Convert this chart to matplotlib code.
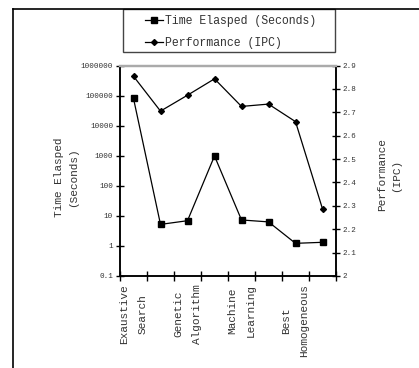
import numpy as np
import matplotlib
matplotlib.use("Agg")
import matplotlib.pyplot as plt
from matplotlib.patches import Rectangle
from matplotlib.lines import Line2D
from matplotlib.ticker import FixedLocator, FormatStrFormatter

# search strategies (only every other label is shown on the axis)
categories = ["Exaustive\nSearch", "", "Genetic\nAlgorithm", "",
              "Machine\nLearning", "", "Best\nHomogeneous", ""]
time_elapsed = [80000, 5.2, 6.9, 980, 7.3, 6.3, 1.22, 1.32]       # seconds, log scale
performance = [2.854, 2.705, 2.773, 2.843, 2.725, 2.735, 2.660, 2.287]  # IPC

time_ticks = [0.1, 1, 10, 100, 1000, 10000, 100000, 1000000]
time_tick_labels = ["0.1", "1", "10", "100", "1000", "10000", "100000", "1000000"]
ipc_ticks = [2.0, 2.1, 2.2, 2.3, 2.4, 2.5, 2.6, 2.7, 2.8, 2.9]

FONT = "Liberation Mono"
TXT = "#333333"

fig = plt.figure(figsize=(4.19, 3.68), dpi=100)
fig.patch.set_facecolor("white")

ax = fig.add_axes([120 / 419, 1 - 276 / 368, 216 / 419, (276 - 65.5) / 368])
ax2 = ax.twinx()

x = np.arange(len(categories))
l1, = ax.plot(x, time_elapsed, color="black", lw=0.9, marker="s", ms=4.5,
              mfc="black", mec="black", label="Time Elasped (Seconds)")
l2, = ax2.plot(x, performance, color="black", lw=0.9, marker="D", ms=3,
               mfc="black", mec="black", label="Performance (IPC)")

ax.set_yscale("log")
ax.set_ylim(0.1, 1000000)
ax.yaxis.set_major_locator(FixedLocator(time_ticks))
ax.set_yticklabels(time_tick_labels)
ax.yaxis.set_minor_locator(FixedLocator([]))
ax2.set_ylim(2.0, 2.9)
ax2.yaxis.set_major_locator(FixedLocator(ipc_ticks))
ax2.yaxis.set_major_formatter(FormatStrFormatter("%g"))

# category boundaries get the ticks, labels sit on the category centres
ax.set_xlim(-0.5, len(categories) - 0.5)
ax.set_xticks(np.arange(-0.5, len(categories)))
ax.set_xticklabels([])
ax.set_xticks(x, minor=True)
ax.set_xticklabels(categories, minor=True, rotation=90, ha="center", va="top",
                   fontfamily=FONT, fontsize=8, color=TXT, linespacing=2.0,
                   multialignment="center")
ax.tick_params(axis="x", which="major", direction="inout", length=7, width=1)
ax.tick_params(axis="x", which="minor", length=0, pad=6)

for a in (ax, ax2):
    a.tick_params(axis="y", direction="inout", length=6, width=1,
                  labelsize=5.5, labelcolor=TXT, pad=2)
    for lab in a.get_yticklabels():
        lab.set_fontfamily(FONT)
    for side in ("left", "right", "bottom"):
        a.spines[side].set_color("black")
        a.spines[side].set_linewidth(1.1)
    a.spines["top"].set_color("#aaaaaa")
    a.spines["top"].set_linewidth(1.6)

fig.text(66 / 419, 1 - 177 / 368, "Time Elasped\n(Seconds)", rotation=90,
         ha="center", va="center", multialignment="center", fontfamily=FONT,
         fontsize=8, color=TXT, linespacing=1.5)
fig.text(389 / 419, 1 - 175 / 368, "Performance\n(IPC)", rotation=90,
         ha="center", va="center", multialignment="center", fontfamily=FONT,
         fontsize=8, color=TXT, linespacing=1.5)

# legend box and outer chart border
fig.patches.append(Rectangle((123 / 419, 1 - 52 / 368), 212 / 419, 43 / 368,
                             transform=fig.transFigure, fill=False,
                             ec="#444444", lw=1.0))
fig.lines.append(Line2D([13 / 419, 1.0], [1 - 9 / 368] * 2,
                        transform=fig.transFigure, color="black", lw=1.2))
fig.lines.append(Line2D([13 / 419] * 2, [0.0, 1 - 9 / 368],
                        transform=fig.transFigure, color="black", lw=1.2))

leg = fig.legend(handles=[l1, l2], loc="upper left",
                 bbox_to_anchor=(145 / 419, 1 - 15 / 368), frameon=False,
                 prop={"family": FONT, "size": 8.3}, handlelength=1.6,
                 handletextpad=0.15, labelspacing=0.85, borderpad=0,
                 borderaxespad=0)
for t in leg.get_texts():
    t.set_color(TXT)

fig.savefig("out.png", dpi=100)
